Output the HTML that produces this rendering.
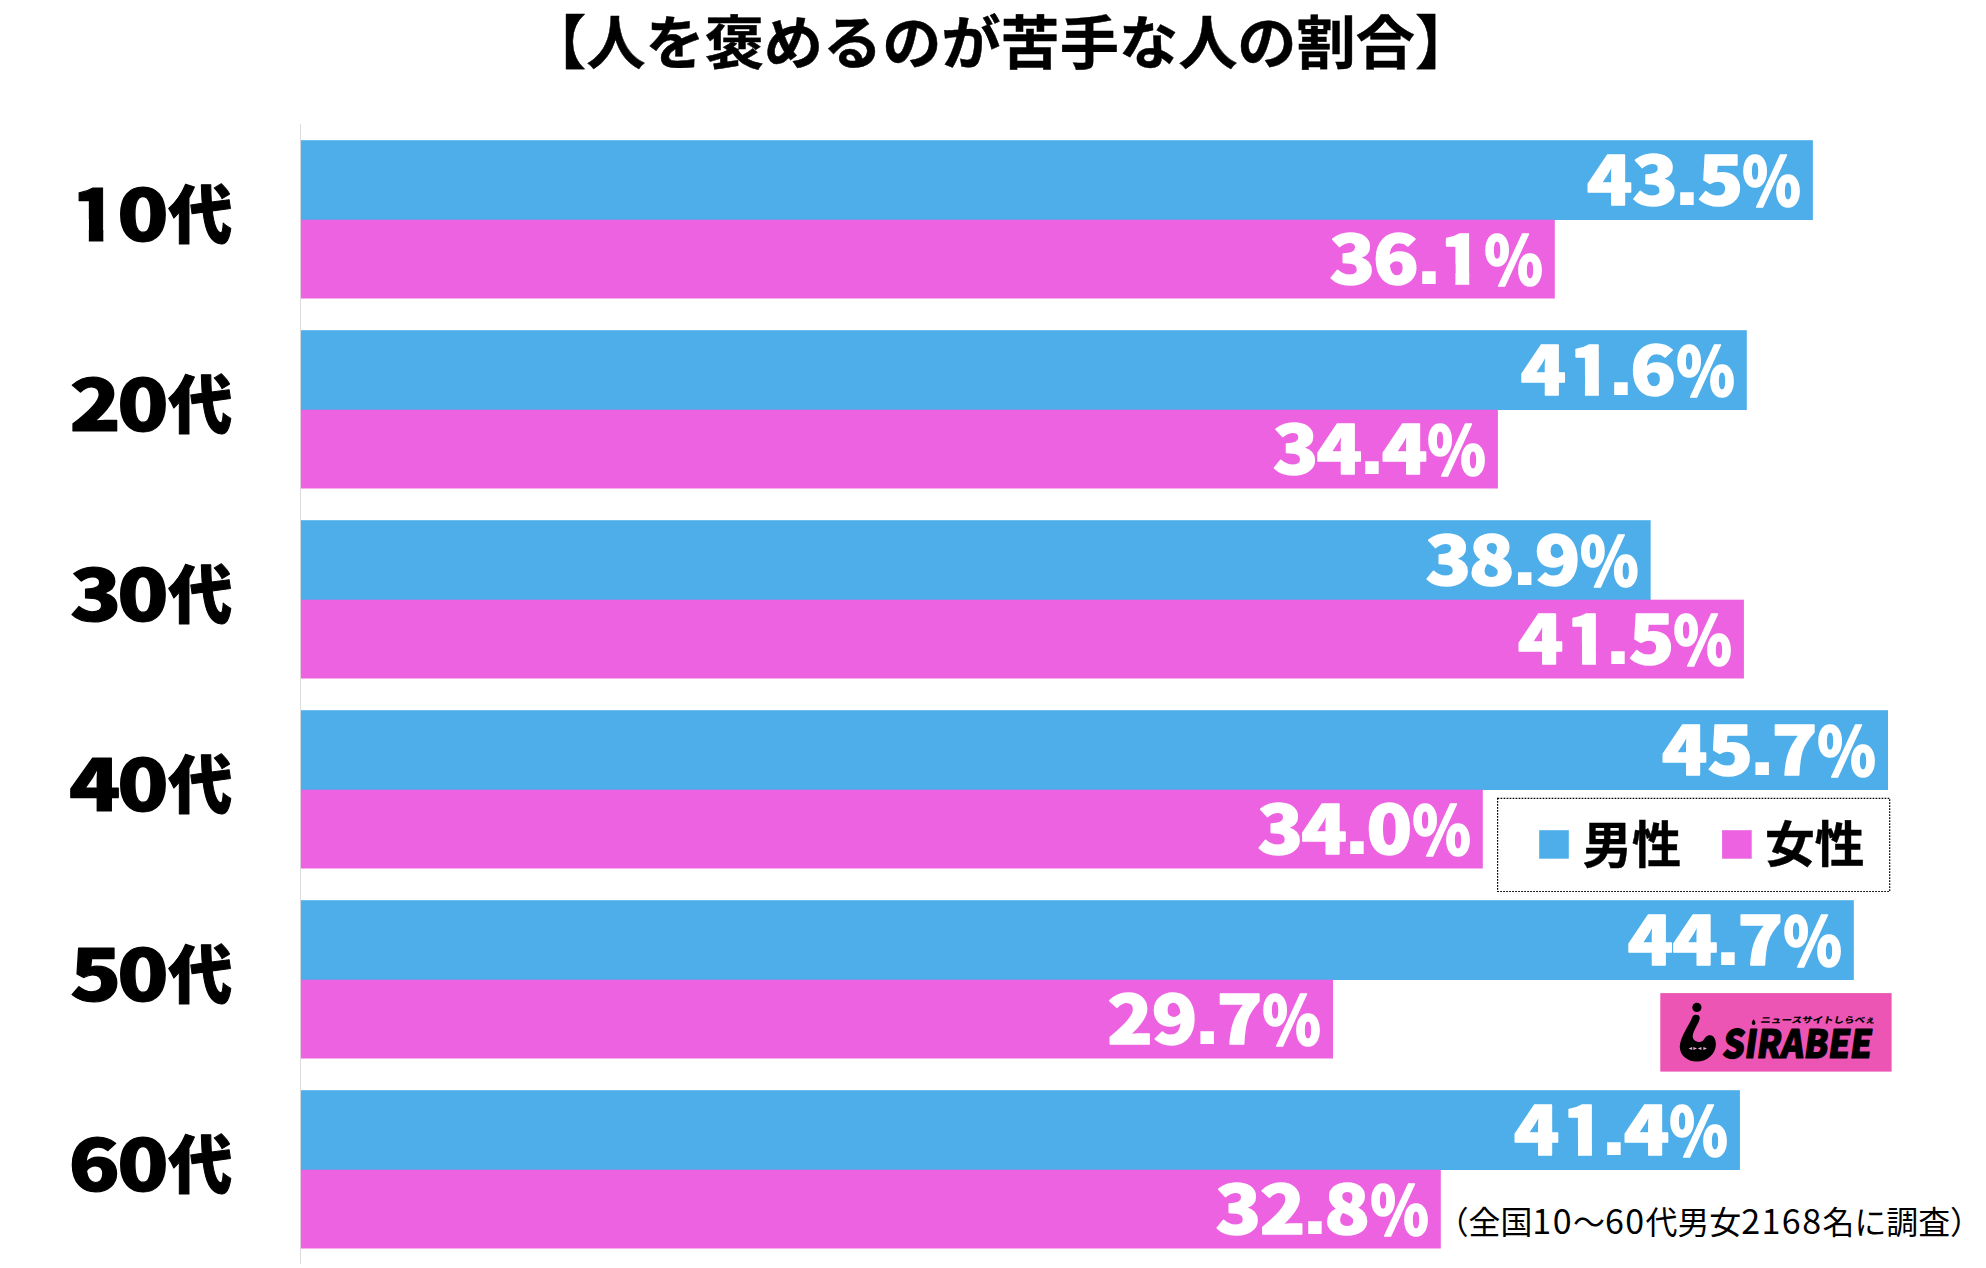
<!DOCTYPE html>
<html lang="ja"><head><meta charset="utf-8"><title>人を褒めるのが苦手な人の割合</title>
<style>html,body{margin:0;padding:0;background:#fff}body{width:1986px;height:1268px;overflow:hidden}svg{display:block}
text{font-family:"Noto Sans CJK JP","Liberation Sans",sans-serif;font-size:100px;white-space:pre}
.b7{font-weight:700;fill:#000;stroke:#000;stroke-width:0.8}.r4{font-weight:400;fill:#000}
.pct{font-weight:900;fill:#fff;stroke:#fff;stroke-width:2.2;stroke-linejoin:round}.lab{font-weight:900;fill:#000;stroke:#000;stroke-width:1.6;stroke-linejoin:round}
.pc{stroke-width:2.2}
.ft{font-size:31.9px}.fd{font-size:34px;letter-spacing:1.45px}
.dot{font-family:"Liberation Sans",sans-serif;font-weight:700;font-size:127px;stroke:none}
.logo{font-weight:900;fill:#000;stroke:#000;stroke-width:3;stroke-linejoin:round}.kana{font-weight:900;fill:#000}
</style></head><body>
<svg width="1986" height="1268" viewBox="0 0 1986 1268">
<defs><clipPath id="c1a"><path d="M5 -80H42.15V3H22.85V-30H5Z"/></clipPath><clipPath id="c1p"><path d="M5 -80H42.45V3H22.55V-30H5Z"/></clipPath></defs>
<rect width="1986" height="1268" fill="#fff"/>
<rect x="300" y="124" width="1" height="1140" fill="#dcdcdc"/>
<text class="b7" transform="matrix(0.5920 0 0 0.5838 527.06 63.72)">【人を褒めるのが苦手な人の割合】</text>
<rect x="300.9" y="140.2" width="1512" height="79.8" fill="#4daeea"/>
<rect x="300.9" y="219.7" width="1253.9" height="78.8" fill="#ec62e0"/>
<g><text class="lab" clip-path="url(#c1a)" transform="matrix(0.7492 0 0 0.7120 71.73 240.50)">1</text><text class="lab" transform="matrix(0.8450 0 0 0.7120 143.05 240.50)" x="-30.5">0</text><text class="lab" transform="matrix(0.6379 0 0 0.6368 168.49 238.36)">代</text></g>
<g><text class="pct" transform="matrix(0.7500 0 0 0.6700 1609.40 204.90)" x="-30.25 30.6 85.95 117.67">43<tspan class="dot">.</tspan>5</text><text class="pct pc" transform="matrix(0.5945 0 0 0.6763 1742.27 205.64)">%</text></g>
<g><text class="pct" transform="matrix(0.7500 0 0 0.6700 1351.30 284.00)" x="-29 28.85 85.95">36<tspan class="dot">.</tspan></text><text class="pct" clip-path="url(#c1p)" transform="matrix(0.6984 0 0 0.6700 1439.69 284.00)">1</text><text class="pct pc" transform="matrix(0.5945 0 0 0.6763 1484.17 284.74)">%</text></g>
<rect x="300.9" y="330.2" width="1445.9" height="79.8" fill="#4daeea"/>
<rect x="300.9" y="409.7" width="1197" height="78.8" fill="#ec62e0"/>
<g><text class="lab" transform="matrix(0.8450 0 0 0.7120 94.55 430.50)" x="-29.75 26.9">20</text><text class="lab" transform="matrix(0.6379 0 0 0.6368 168.49 428.36)">代</text></g>
<g><text class="pct" transform="matrix(0.7500 0 0 0.6700 1543.30 394.90)" x="-30.25">4</text><text class="pct" clip-path="url(#c1p)" transform="matrix(0.6984 0 0 0.6700 1569.19 394.90)">1</text><text class="pct" transform="matrix(0.7500 0 0 0.6700 1621.10 394.90)" x="-17.78 12.18"><tspan class="dot">.</tspan>6</text><text class="pct pc" transform="matrix(0.5945 0 0 0.6763 1676.17 395.64)">%</text></g>
<g><text class="pct" transform="matrix(0.7500 0 0 0.6700 1294.40 474.00)" x="-29 29.35 85.95 116.42">34<tspan class="dot">.</tspan>4</text><text class="pct pc" transform="matrix(0.5945 0 0 0.6763 1427.27 474.74)">%</text></g>
<rect x="300.9" y="520.2" width="1349.75" height="79.8" fill="#4daeea"/>
<rect x="300.9" y="599.7" width="1443" height="78.8" fill="#ec62e0"/>
<g><text class="lab" transform="matrix(0.8450 0 0 0.7120 94.55 620.50)" x="-29 26.9">30</text><text class="lab" transform="matrix(0.6379 0 0 0.6368 168.49 618.36)">代</text></g>
<g><text class="pct" transform="matrix(0.7500 0 0 0.6700 1447.15 584.90)" x="-29 28.85 85.95 116.67">38<tspan class="dot">.</tspan>9</text><text class="pct pc" transform="matrix(0.5945 0 0 0.6763 1580.02 585.64)">%</text></g>
<g><text class="pct" transform="matrix(0.7500 0 0 0.6700 1540.40 664.00)" x="-30.25">4</text><text class="pct" clip-path="url(#c1p)" transform="matrix(0.6984 0 0 0.6700 1566.29 664.00)">1</text><text class="pct" transform="matrix(0.7500 0 0 0.6700 1618.20 664.00)" x="-17.78 13.93"><tspan class="dot">.</tspan>5</text><text class="pct pc" transform="matrix(0.5945 0 0 0.6763 1673.27 664.74)">%</text></g>
<rect x="300.9" y="710.2" width="1587.1" height="79.8" fill="#4daeea"/>
<rect x="300.9" y="789.7" width="1181.9" height="78.8" fill="#ec62e0"/>
<g><text class="lab" transform="matrix(0.8450 0 0 0.7120 94.55 810.50)" x="-30.25 26.9">40</text><text class="lab" transform="matrix(0.6379 0 0 0.6368 168.49 808.36)">代</text></g>
<g><text class="pct" transform="matrix(0.7500 0 0 0.6700 1684.50 774.90)" x="-30.25 30.6 85.95 116.17">45<tspan class="dot">.</tspan>7</text><text class="pct pc" transform="matrix(0.5945 0 0 0.6763 1817.37 775.64)">%</text></g>
<g><text class="pct" transform="matrix(0.7500 0 0 0.6700 1279.30 854.00)" x="-29 29.35 85.95 116.17">34<tspan class="dot">.</tspan>0</text><text class="pct pc" transform="matrix(0.5945 0 0 0.6763 1412.17 854.74)">%</text></g>
<rect x="300.9" y="900.2" width="1552.9" height="79.8" fill="#4daeea"/>
<rect x="300.9" y="979.7" width="1032.1" height="78.8" fill="#ec62e0"/>
<g><text class="lab" transform="matrix(0.8450 0 0 0.7120 94.55 1000.50)" x="-29 26.9">50</text><text class="lab" transform="matrix(0.6379 0 0 0.6368 168.49 998.36)">代</text></g>
<g><text class="pct" transform="matrix(0.7500 0 0 0.6700 1650.30 964.90)" x="-30.25 29.35 85.95 116.17">44<tspan class="dot">.</tspan>7</text><text class="pct pc" transform="matrix(0.5945 0 0 0.6763 1783.17 965.64)">%</text></g>
<g><text class="pct" transform="matrix(0.7500 0 0 0.6700 1129.50 1044.00)" x="-29.75 29.6 85.95 116.17">29<tspan class="dot">.</tspan>7</text><text class="pct pc" transform="matrix(0.5945 0 0 0.6763 1262.37 1044.74)">%</text></g>
<rect x="300.9" y="1090.2" width="1439" height="79.8" fill="#4daeea"/>
<rect x="300.9" y="1169.7" width="1139.9" height="78.8" fill="#ec62e0"/>
<g><text class="lab" transform="matrix(0.8450 0 0 0.7120 94.55 1190.50)" x="-30.75 26.9">60</text><text class="lab" transform="matrix(0.6379 0 0 0.6368 168.49 1188.36)">代</text></g>
<g><text class="pct" transform="matrix(0.7500 0 0 0.6700 1536.40 1154.90)" x="-30.25">4</text><text class="pct" clip-path="url(#c1p)" transform="matrix(0.6984 0 0 0.6700 1562.29 1154.90)">1</text><text class="pct" transform="matrix(0.7500 0 0 0.6700 1614.20 1154.90)" x="-17.78 12.68"><tspan class="dot">.</tspan>4</text><text class="pct pc" transform="matrix(0.5945 0 0 0.6763 1669.27 1155.64)">%</text></g>
<g><text class="pct" transform="matrix(0.7500 0 0 0.6700 1237.30 1234.00)" x="-29 29.85 85.95 115.92">32<tspan class="dot">.</tspan>8</text><text class="pct pc" transform="matrix(0.5945 0 0 0.6763 1370.17 1234.74)">%</text></g>
<rect x="1497.6" y="798.4" width="392.1" height="93.1" fill="#fff" stroke="#000" stroke-width="1.2" stroke-dasharray="1.7 1.3"/>
<rect x="1539.2" y="830.2" width="29.6" height="28.5" fill="#4daeea"/>
<text class="b7" transform="matrix(0.4925 0 0 0.4968 1582.82 862.53)">男性</text>
<rect x="1722.1" y="830.2" width="29.6" height="28.5" fill="#ec62e0"/>
<text class="b7" transform="matrix(0.4979 0 0 0.4932 1764.96 862.22)">女性</text>
<text class="r4 ft" x="1436.7" y="1234.3">（全国<tspan class="fd">10</tspan>〜<tspan class="fd">60</tspan>代男女<tspan class="fd">2168</tspan>名に調査）</text>
<g id="logo"><rect x="1660.3" y="993.1" width="231.3" height="78.5" fill="#ec55b4"/>
<circle cx="1696.9" cy="1007.4" r="4.6" fill="#000"/>
<path d="M1691.9 1018C1690 1024 1680.5 1036 1679.8 1046C1679.3 1055 1687 1061.6 1696.6 1061.6C1708 1061.6 1716 1053 1715.9 1044C1715.8 1038 1713 1035.2 1710.2 1035.2C1706 1035.2 1705 1038 1703.5 1040C1702 1042 1699.5 1042.2 1697.5 1041.7C1694 1040.8 1692.3 1038.5 1692.8 1035.5C1693.5 1030 1698.5 1024 1699.6 1019C1700.3 1015.5 1698 1014.7 1695.7 1014.7C1693.5 1014.7 1692.5 1016 1691.9 1018Z" fill="#000"/>
<path d="M1688.6 1048.5l3.6-1.6v3.2zM1697 1048.5l-3.6-1.6v3.2zM1697.8 1048.5l3.6-1.6v3.2zM1707 1048.5l-3.6-1.6v3.2z" fill="#e9b0d6"/>
<path d="M1753.6 1019.3c1 1.6 1.9 2.6 1.9 3.7a1.9 1.9 0 0 1-3.8 0c0-1.1.9-2.1 1.9-3.7z" fill="#000"/>
<text class="logo" transform="matrix(0.3475 0 -0.0543 0.3876 1721.23 1057.94)">SIRABEE</text>
<text class="kana" transform="matrix(0.1051 0 -0.0169 0.0846 1760.00 1023.08)">ニュースサイトしらべぇ</text>
</g>
</svg></body></html>
